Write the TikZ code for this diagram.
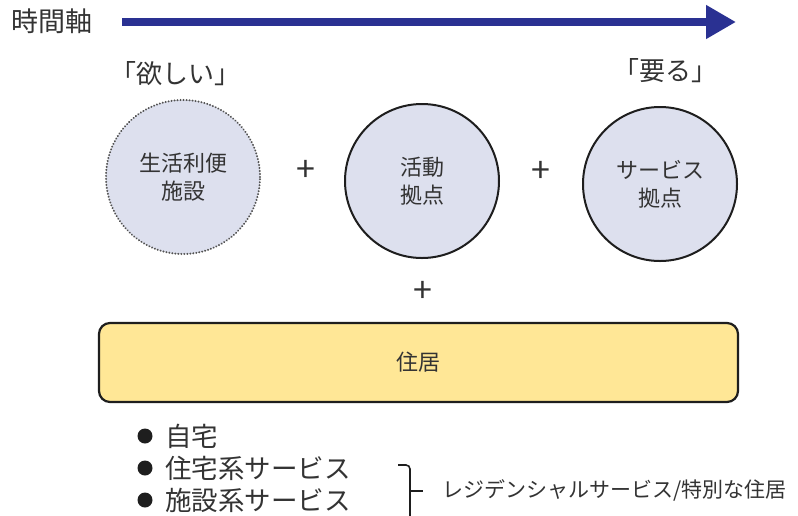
\documentclass[tikz,border=0pt]{standalone}
\usepackage{fontspec}
\setmainfont{Noto Sans CJK JP}
\usetikzlibrary{arrows.meta}
\definecolor{navy}{HTML}{2A3192}
\definecolor{circfill}{HTML}{DDE0EE}
\definecolor{housefill}{HTML}{FFE796}
\definecolor{txt}{HTML}{333333}
\definecolor{edge}{HTML}{1E1E1E}
\begin{document}
\begin{tikzpicture}[x=1pt,y=-1pt,
  every node/.style={text=txt, inner sep=0pt},
  bubble/.style={circle, minimum size=154pt, fill=circfill, align=center,
    font=\fontsize{22}{28}\selectfont},
  solidbubble/.style={bubble, draw=edge, line width=2pt},
  dotbubble/.style={bubble, draw=gray!65!black, line width=2.2pt, dash pattern=on 0.01pt off 3pt, line cap=round},
  plus/.style={font=\fontsize{34}{34}\selectfont},
  bigtext/.style={font=\fontsize{26}{30}\selectfont},
  itemtext/.style={font=\fontsize{26.5}{30}\selectfont, anchor=west},
  dot/.style={circle, fill=edge, minimum size=15pt}
]
\useasboundingbox (0,0) rectangle (798,515);
\fill[white] (0,0) rectangle (798,515);

% time axis
\node[font=\fontsize{27}{30}\selectfont, anchor=west] (axis) at (11,21) {時間軸};
\coordinate (arrS) at (122,22);
\coordinate (arrE) at (736,22);
\draw[navy, line width=8pt, -{Triangle[length=30pt,width=32pt]}] (arrS) -- (arrE);

% labels
\node[bigtext] (want) at (175,74) {「欲しい」};
\node[bigtext] (need) at (665,71) {「要る」};

% circles
\node[dotbubble] (c1) at (183,177) {生活利便\\施設};
\node[solidbubble] (c2) at (422,181) {活動\\拠点};
\node[solidbubble] (c3) at (660,184) {サービス\\拠点};

% plus signs
\node[plus] (p1) at (306,171) {+};
\node[plus] (p2) at (541,172) {+};
\node[plus] (p3) at (423,292) {+};

% housing bar
\node[draw=edge, line width=2.2pt, rounded corners=11pt, fill=housefill,
  minimum width=639pt, minimum height=79pt, font=\fontsize{22}{26}\selectfont]
  (house) at (418.5,362.5) {住居};

% bullet list
\node[dot] (b1) at (145,436) {};
\node[dot] (b2) at (145,468) {};
\node[dot] (b3) at (145,500) {};
\node[itemtext] (t1) at (165,436) {自宅};
\node[itemtext] (t2) at (165,468) {住宅系サービス};
\node[itemtext] (t3) at (165,500) {施設系サービス};

% brace
\coordinate (brTop) at (398,465);
\coordinate (brBot) at (410,520);
\coordinate (brMid) at (410,491);
\coordinate (brTip) at (423,491);
\draw[edge, line width=1.6pt, rounded corners=4pt] (brTop) -| (brBot);
\draw[edge, line width=1.6pt] (brMid) -- (brTip);
\node[font=\fontsize{21}{26}\selectfont, anchor=west] (res) at (442,490) {レジデンシャルサービス/特別な住居};
\end{tikzpicture}
\end{document}
